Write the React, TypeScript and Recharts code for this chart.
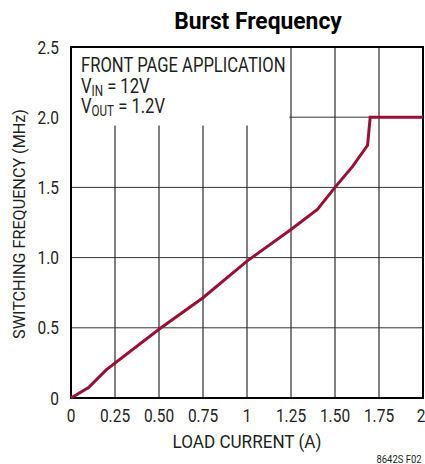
import type { CSSProperties, ReactNode } from 'react';
import { CartesianGrid, Line, LineChart, ReferenceArea, XAxis, YAxis } from 'recharts';

const loadCurrent = [0, 0.1, 0.2, 0.5, 0.75, 1.0, 1.25, 1.4, 1.5, 1.6, 1.685, 1.7, 2.0];
const switchingFreq = [0, 0.075, 0.2, 0.49, 0.714, 0.975, 1.2, 1.343, 1.5, 1.65, 1.8, 2.0, 2.0];

const xTicks = [0, 0.25, 0.5, 0.75, 1, 1.25, 1.5, 1.75, 2];
const xTickLabels = ['0', '0.25', '0.50', '0.75', '1', '1.25', '1.50', '1.75', '2'];
const yTicks = [0, 0.5, 1, 1.5, 2, 2.5];
const yTickLabels = ['0', '0.5', '1.0', '1.5', '2.0', '2.5'];

const FONT = 'Roboto, "Liberation Sans", sans-serif';
const SQUEEZE = 0.86; // reference uses a condensed face
const CURVE = '#990f36';
const INK = '#231f20';

const data = loadCurrent.map((x, i) => ({ x, f: switchingFreq[i] }));

// text squeezed horizontally, anchored at (left, top) with a given origin
function Narrow({
  style,
  origin = 'left',
  scale = SQUEEZE,
  pre = '',
  children,
}: {
  style: CSSProperties;
  origin?: string;
  scale?: number;
  pre?: string;
  children: ReactNode;
}) {
  return (
    <div
      style={{
        position: 'absolute',
        whiteSpace: 'nowrap',
        lineHeight: 1,
        transform: `${pre} scaleX(${scale})`,
        transformOrigin: origin,
        ...style,
      }}
    >
      {children}
    </div>
  );
}

function XTick({ x, y, payload }: { x: number; y: number; payload: { value: number } }) {
  const label = xTickLabels[xTicks.indexOf(payload.value)] ?? String(payload.value);
  return (
    <text
      transform={`translate(${x},${y + 22}) scale(${SQUEEZE},1)`}
      textAnchor="middle"
      fill={INK}
      fontSize={18}
      fontFamily={FONT}
    >
      {label}
    </text>
  );
}

function YTick({ x, y, payload }: { x: number; y: number; payload: { value: number } }) {
  const label = yTickLabels[yTicks.indexOf(payload.value)] ?? String(payload.value);
  return (
    <text
      transform={`translate(${x - 10},${y + 6.5}) scale(${SQUEEZE},1)`}
      textAnchor="end"
      fill={INK}
      fontSize={18}
      fontFamily={FONT}
    >
      {label}
    </text>
  );
}

const subStyle: CSSProperties = { fontSize: 14, verticalAlign: -3, lineHeight: 0 };

export default function App() {
  return (
    <div style={{ position: 'absolute', left: 0, top: 0, width: 425, height: 464, background: '#fff', fontFamily: FONT, color: INK }}>
      <LineChart width={425} height={464} data={data} margin={{ top: 47, right: 2, bottom: 0, left: 0 }}>
        <CartesianGrid horizontal={false} stroke="#808080" strokeWidth={2} verticalValues={xTicks} />
        <CartesianGrid vertical={false} stroke="#333" strokeWidth={1} horizontalValues={yTicks} />
        <ReferenceArea x1={0} x2={1.24} y1={1.94} y2={2.5} fill="#fff" fillOpacity={1} stroke="none" />
        <XAxis
          dataKey="x"
          type="number"
          domain={[0, 2]}
          ticks={xTicks}
          axisLine={false}
          tickLine={false}
          tickSize={0}
          height={66}
          tick={XTick}
        />
        <YAxis
          type="number"
          domain={[0, 2.5]}
          ticks={yTicks}
          axisLine={false}
          tickLine={false}
          tickSize={0}
          width={71}
          tick={YTick}
        />
        <ReferenceArea x1={0} x2={2} y1={0} y2={2.5} fill="none" stroke="#000" strokeWidth={2} />
        <Line
          dataKey="f"
          type="linear"
          stroke={CURVE}
          strokeWidth={3}
          dot={false}
          isAnimationActive={false}
        />
      </LineChart>

      <Narrow origin="center" scale={0.95} style={{ left: 0, width: 516, top: 9, textAlign: 'center', fontSize: 24, fontWeight: 'bold', color: '#000' }}>
        Burst Frequency
      </Narrow>

      <Narrow scale={0.83} style={{ left: 81, top: 55, fontSize: 20 }}>
        FRONT PAGE APPLICATION
      </Narrow>
      <Narrow scale={0.83} style={{ left: 81, top: 76, fontSize: 20 }}>
        V<sub style={subStyle}>IN</sub> = 12V
      </Narrow>
      <Narrow scale={0.83} style={{ left: 81, top: 96, fontSize: 20 }}>
        V<sub style={subStyle}>OUT</sub> = 1.2V
      </Narrow>

      <Narrow
        origin="center"
        scale={0.95}
        pre="translate(-50%, -50%) rotate(-90deg)"
        style={{ left: 19, top: 223.5, fontSize: 17 }}
      >
        SWITCHING FREQUENCY (MHz)
      </Narrow>

      <Narrow origin="center" scale={0.95} style={{ left: 0, width: 494, top: 433, textAlign: 'center', fontSize: 18 }}>
        LOAD CURRENT (A)
      </Narrow>

      <Narrow origin="right" scale={0.95} style={{ right: 3, top: 455, fontSize: 10 }}>
        8642S F02
      </Narrow>
    </div>
  );
}
